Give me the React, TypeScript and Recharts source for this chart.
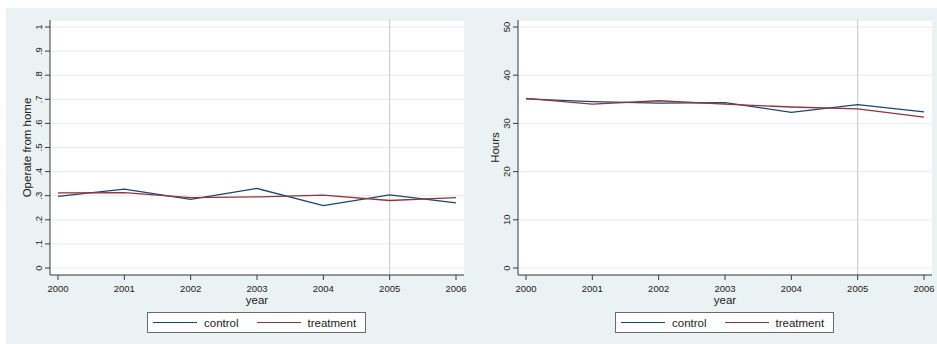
import React from "react";
import { LineChart, Line, XAxis, YAxis, CartesianGrid, ReferenceLine, Legend } from "recharts";

const years = [2000, 2001, 2002, 2003, 2004, 2005, 2006];
const controlHome = [0.297, 0.327, 0.285, 0.33, 0.259, 0.303, 0.27];
const treatmentHome = [0.312, 0.313, 0.292, 0.295, 0.302, 0.28, 0.292];
const controlHours = [35.1, 34.5, 34.2, 34.3, 32.3, 33.9, 32.4];
const treatmentHours = [35.2, 34.0, 34.7, 34.0, 33.4, 33.0, 31.3];
const homeTicks = [0, 0.1, 0.2, 0.3, 0.4, 0.5, 0.6, 0.7, 0.8, 0.9, 1];
const hoursTicks = [0, 10, 20, 30, 40, 50];
const seriesNames = ["control", "treatment"];
const treatmentYear = 2005;

const FONT = "'Liberation Sans', Arial, Helvetica, sans-serif";
const BLUE = "#1a476f";
const RED = "#90353b";
const AXIS = "#3a3a3a";

const homeData = years.map((y, i) => ({ year: y, control: controlHome[i], treatment: treatmentHome[i] }));
const hoursData = years.map((y, i) => ({ year: y, control: controlHours[i], treatment: treatmentHours[i] }));

const fmtHome = (v: number) => (v === 0 ? "0" : v === 1 ? "1" : String(Math.round(v * 10) / 10).replace(/^0/, ""));
const fmtHours = (v: number) => String(v);

const XTick = (props: any) => {
  const { x, y, payload } = props;
  return (
    <text x={x} y={y + 6} textAnchor="middle" dominantBaseline="central" fontSize={9.5} fontFamily={FONT} fill="#222">
      {payload.value}
    </text>
  );
};

const makeYTick = (fmt: (v: number) => string) => (props: any) => {
  const { x, y, payload } = props;
  return (
    <text
      transform={`translate(${x},${y}) rotate(-90)`}
      textAnchor="middle"
      dominantBaseline="central"
      fontSize={9.5}
      fontFamily={FONT}
      fill="#222"
    >
      {fmt(payload.value)}
    </text>
  );
};

const LegendBox = (props: any) => {
  const items = [
    { name: seriesNames[0], color: BLUE },
    { name: seriesNames[1], color: RED },
  ];
  return (
    <div
      style={{
        boxSizing: "border-box",
        height: 21,
        width: 219,
        border: "1px solid #6a6a6a",
        background: "#fff",
        display: "flex",
        alignItems: "center",
        fontFamily: FONT,
        fontSize: 11.5,
        color: "#222",
        paddingLeft: 5,
      }}
    >
      {items.map((it, i) => (
        <div key={it.name} style={{ display: "flex", alignItems: "center", marginRight: i === 0 ? 18 : 0 }}>
          <div style={{ width: 44, height: 0, borderTop: `1.3px solid ${it.color}`, marginRight: 7 }} />
          <span>{it.name}</span>
        </div>
      ))}
    </div>
  );
};

function Panel(props: {
  data: any[];
  ticks: number[];
  domain: [number, number];
  yTitle: string;
  fmt: (v: number) => string;
  width: number;
  yAxisWidth: number;
  marginRight: number;
  legendLeft: number;
}) {
  const { data, ticks, domain, yTitle, fmt, width, yAxisWidth, marginRight, legendLeft } = props;
  const YTick = makeYTick(fmt);
  return (
    <LineChart width={width} height={336} data={data} margin={{ top: 12, right: marginRight, bottom: 11, left: 0 }}>
      <CartesianGrid vertical={false} stroke="#e4edf0" fill="#ffffff" />
      <XAxis
        dataKey="year"
        type="number"
        domain={[years[0], years[years.length - 1]]}
        ticks={years}
        padding={{ left: 8, right: 8 }}
        height={37}
        tickSize={5}
        stroke={AXIS}
        tick={<XTick />}
        interval={0}
        label={(p: any) => {
          const vb = p.viewBox;
          return (
            <text
              x={vb.x + vb.width / 2}
              y={vb.y + 24.5}
              textAnchor="middle"
              dominantBaseline="central"
              fontSize={11.5}
              fontFamily={FONT}
              fill="#222"
            >
              year
            </text>
          );
        }}
      />
      <YAxis
        type="number"
        domain={domain}
        ticks={ticks}
        width={yAxisWidth}
        padding={{ top: 7, bottom: 7 }}
        tickSize={5}
        tickMargin={6.7}
        stroke={AXIS}
        tick={<YTick />}
        interval={0}
        label={(p: any) => {
          const vb = p.viewBox;
          const cx = vb.x + vb.width - 23.5;
          const cy = vb.y + vb.height / 2;
          return (
            <text
              transform={`translate(${cx},${cy}) rotate(-90)`}
              textAnchor="middle"
              dominantBaseline="central"
              fontSize={11.5}
              fontFamily={FONT}
              fill="#222"
            >
              {yTitle}
            </text>
          );
        }}
      />
      <ReferenceLine x={treatmentYear} stroke="#c6c6c6" strokeWidth={1} />
      <Line dataKey="control" name={seriesNames[0]} stroke={BLUE} strokeWidth={1.3} dot={false} isAnimationActive={false} />
      <Line dataKey="treatment" name={seriesNames[1]} stroke={RED} strokeWidth={1.3} dot={false} isAnimationActive={false} />
      <Legend
        verticalAlign="bottom"
        content={<LegendBox />}
        wrapperStyle={{ left: legendLeft, width: 219, bottom: 11, height: 21 }}
      />
    </LineChart>
  );
}

export default function App() {
  return (
    <div
      style={{
        position: "fixed",
        left: 6,
        top: 8,
        width: 931,
        height: 336,
        background: "#eaf2f3",
        display: "flex",
        fontFamily: FONT,
      }}
    >
      <div style={{ width: 464, height: 336, flex: "none" }}>
        <Panel
          data={homeData}
          ticks={homeTicks}
          domain={[0, 1]}
          yTitle="Operate from home"
          fmt={fmtHome}
          width={464}
          yAxisWidth={44}
          marginRight={6}
          legendLeft={141}
        />
      </div>
      <div style={{ width: 467, height: 336, flex: "none" }}>
        <Panel
          data={hoursData}
          ticks={hoursTicks}
          domain={[0, 50]}
          yTitle="Hours"
          fmt={fmtHours}
          width={467}
          yAxisWidth={48}
          marginRight={5}
          legendLeft={145}
        />
      </div>
    </div>
  );
}
